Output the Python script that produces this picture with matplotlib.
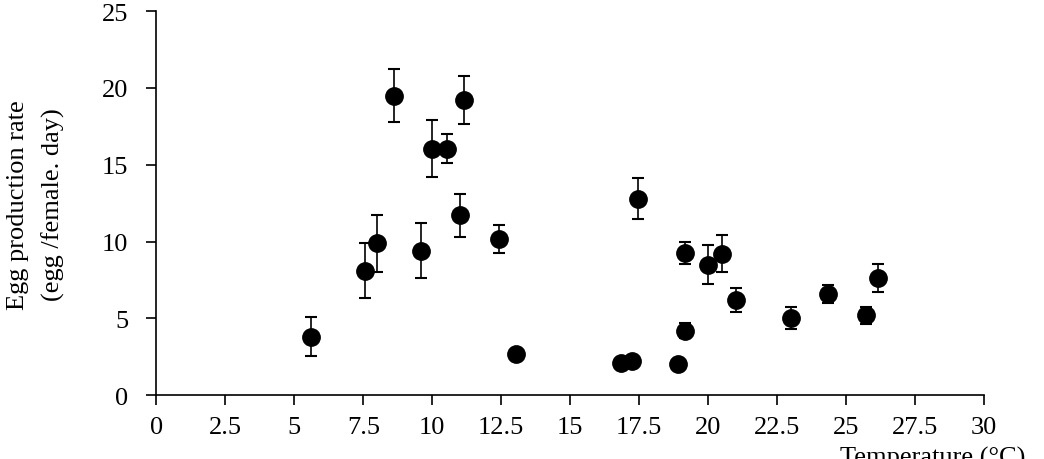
import matplotlib
matplotlib.use('Agg')
import matplotlib.pyplot as plt

# temperature (°C), egg production rate and its error
temp = [5.6, 7.55, 8.0, 8.6, 9.6, 10.0, 10.55, 11.0, 11.15, 12.4, 13.05,
        16.85, 17.25, 17.45, 18.9, 19.15, 19.15, 20.0, 20.5, 21.0, 23.0,
        24.35, 25.7, 26.15]
egg_rate = [3.8, 8.1, 9.9, 19.5, 9.4, 16.05, 16.05, 11.7, 19.2, 10.15, 2.7,
            2.1, 2.25, 12.8, 2.05, 4.2, 9.25, 8.5, 9.2, 6.2, 5.05,
            6.6, 5.2, 7.65]
egg_err = [1.27, 1.8, 1.85, 1.73, 1.8, 1.85, 0.95, 1.4, 1.55, 0.9, 0.3,
           0.3, 0.3, 1.33, 0.3, 0.5, 0.7, 1.28, 1.2, 0.78, 0.72,
           0.6, 0.55, 0.9]

x_ticks = [0, 2.5, 5, 7.5, 10, 12.5, 15, 17.5, 20, 22.5, 25, 27.5, 30]
x_labels = ['0', '2.5', '5', '7.5', '10', '12.5', '15', '17.5', '20',
            '22.5', '25', '27.5', '30']
y_ticks = [0, 5, 10, 15, 20, 25]

plt.rcParams['font.family'] = ['Liberation Serif', 'DejaVu Serif']
plt.rcParams['font.size'] = 19

fig = plt.figure(figsize=(10.44, 4.6), dpi=100)
ax = fig.add_axes([0.1497, 0.1385, 0.7931, 0.8354])

ax.errorbar(temp, egg_rate, yerr=egg_err, fmt='o', color='black',
            markersize=12.5, elinewidth=1.2, capsize=4.6, capthick=1.5)

ax.set_xlim(0, 30)
ax.set_ylim(0, 25)
ax.set_xticks(x_ticks)
ax.set_xticklabels(x_labels)
ax.set_yticks(y_ticks)
ax.spines['top'].set_visible(False)
ax.spines['right'].set_visible(False)
ax.spines['left'].set_linewidth(1.2)
ax.spines['bottom'].set_linewidth(1.2)
ax.tick_params(axis='x', direction='out', length=7.2, width=1.2, pad=8)
ax.tick_params(axis='y', direction='out', length=7.2, width=1.2, pad=13)

# axis titles placed like the original
fig.text(18 / 1044, 1 - 205 / 460, 'Egg production rate', rotation=90,
         ha='center', va='center')
fig.text(53 / 1044, 1 - 205 / 460, '(egg /female. day)', rotation=90,
         ha='center', va='center')
fig.text(840 / 1044, 1 - 447 / 460, 'Temperature (°C)', ha='left', va='top')

fig.savefig('out.png', dpi=100)
